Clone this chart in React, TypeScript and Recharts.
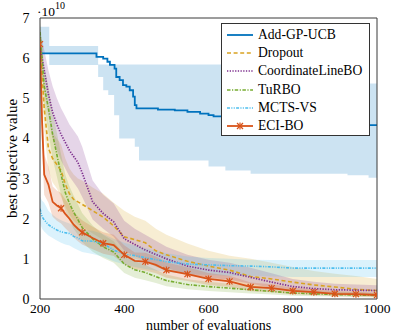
import React from 'react';
import { ComposedChart, Line, Area, XAxis, YAxis } from 'recharts';

// ---------- data (values in units of 1e10) ----------
const evals = [200, 205, 210, 220, 230, 240, 250, 260, 270, 280, 290, 300, 325, 350, 375, 400, 425, 450, 475, 500, 550, 600, 650, 700, 750, 800, 850, 900, 950, 1000];

const dropoutMean = [6.5, 5.6, 4.75, 3.75, 3.5, 3.35, 3.2, 2.86, 2.62, 2.48, 2.42, 2.36, 2.2, 2.04, 1.82, 1.55, 1.48, 1.4, 1.2, 1.1, 0.94, 0.82, 0.72, 0.56, 0.5, 0.42, 0.35, 0.3, 0.24, 0.21];
const dropoutLo = [6.2, 5.1, 4.2, 3.2, 2.9, 2.75, 2.55, 2.3, 2.1, 1.95, 1.85, 1.8, 1.63, 1.47, 1.3, 1.1, 1.0, 0.95, 0.8, 0.72, 0.6, 0.5, 0.42, 0.3, 0.25, 0.2, 0.15, 0.12, 0.09, 0.07];
const dropoutHi = [6.8, 6.2, 5.4, 4.4, 4.15, 4.0, 3.85, 3.5, 3.25, 3.1, 3.0, 2.95, 2.78, 2.62, 2.4, 2.2, 2.05, 1.95, 1.75, 1.6, 1.38, 1.2, 1.08, 1.0, 0.9, 0.8, 0.7, 0.63, 0.57, 0.5];

const clboMean = [6.3, 6.0, 5.7, 5.1, 4.65, 4.35, 4.1, 3.9, 3.7, 3.55, 3.4, 3.15, 2.42, 2.13, 1.92, 1.5, 1.36, 1.22, 1.11, 1.0, 0.82, 0.72, 0.66, 0.54, 0.42, 0.31, 0.26, 0.23, 0.22, 0.21];
const clboLo = [6.0, 5.6, 5.2, 4.5, 4.0, 3.7, 3.45, 3.25, 3.05, 2.9, 2.75, 2.55, 1.98, 1.75, 1.55, 1.2, 1.07, 0.95, 0.86, 0.77, 0.62, 0.53, 0.48, 0.38, 0.28, 0.19, 0.15, 0.13, 0.12, 0.11];
const clboHi = [6.6, 6.45, 6.2, 5.7, 5.3, 5.0, 4.75, 4.55, 4.35, 4.2, 4.05, 3.8, 2.95, 2.6, 2.38, 1.95, 1.75, 1.6, 1.45, 1.3, 1.1, 0.98, 0.9, 0.78, 0.64, 0.5, 0.43, 0.38, 0.36, 0.34];

const turboMean = [6.65, 5.95, 5.3, 4.75, 4.1, 3.6, 3.1, 2.65, 2.38, 2.16, 1.98, 1.78, 1.5, 1.3, 1.17, 0.87, 0.73, 0.66, 0.56, 0.46, 0.36, 0.31, 0.27, 0.23, 0.19, 0.15, 0.13, 0.11, 0.1, 0.09];
const turboLo = [6.4, 5.5, 4.8, 4.15, 3.5, 3.05, 2.6, 2.2, 1.95, 1.75, 1.6, 1.42, 1.18, 1.02, 0.9, 0.65, 0.53, 0.47, 0.4, 0.32, 0.24, 0.2, 0.17, 0.14, 0.11, 0.08, 0.07, 0.06, 0.05, 0.04];
const turboHi = [6.9, 6.4, 5.8, 5.3, 4.65, 4.15, 3.6, 3.1, 2.8, 2.57, 2.36, 2.14, 1.83, 1.6, 1.44, 1.1, 0.94, 0.85, 0.73, 0.61, 0.49, 0.43, 0.38, 0.33, 0.28, 0.23, 0.2, 0.17, 0.16, 0.15];

const mctsMean = [2.25, 2.05, 1.97, 1.85, 1.78, 1.72, 1.67, 1.65, 1.63, 1.56, 1.52, 1.45, 1.44, 1.38, 1.22, 1.12, 1.08, 1.03, 0.98, 0.93, 0.87, 0.85, 0.83, 0.82, 0.8, 0.77, 0.77, 0.77, 0.77, 0.77];
const mctsLo = [1.88, 1.75, 1.68, 1.58, 1.52, 1.46, 1.4, 1.36, 1.33, 1.27, 1.22, 1.17, 1.12, 1.05, 0.94, 0.86, 0.8, 0.75, 0.71, 0.67, 0.62, 0.6, 0.58, 0.57, 0.56, 0.55, 0.55, 0.55, 0.55, 0.55];
const mctsHi = [2.55, 2.45, 2.4, 2.2, 2.1, 2.02, 1.96, 1.92, 1.88, 1.82, 1.77, 1.72, 1.7, 1.62, 1.5, 1.4, 1.33, 1.27, 1.2, 1.14, 1.06, 1.02, 1.0, 0.98, 0.97, 0.97, 0.97, 0.97, 0.97, 0.97];

const eciMean = [6.35, 4.4, 3.1, 2.85, 2.42, 2.33, 2.26, 2.12, 2.0, 1.85, 1.75, 1.66, 1.52, 1.39, 1.34, 1.1, 0.95, 0.93, 0.85, 0.72, 0.62, 0.5, 0.44, 0.3, 0.27, 0.2, 0.17, 0.13, 0.12, 0.1];
const eciLo = [6.1, 3.8, 2.6, 2.4, 2.05, 1.95, 1.88, 1.76, 1.66, 1.53, 1.44, 1.36, 1.24, 1.13, 1.07, 0.86, 0.74, 0.71, 0.64, 0.53, 0.45, 0.35, 0.3, 0.19, 0.17, 0.12, 0.1, 0.07, 0.06, 0.05];
const eciHi = [6.6, 5.0, 3.6, 3.3, 2.8, 2.7, 2.64, 2.48, 2.34, 2.17, 2.06, 1.96, 1.8, 1.66, 1.6, 1.34, 1.16, 1.15, 1.06, 0.91, 0.79, 0.65, 0.58, 0.41, 0.37, 0.28, 0.24, 0.19, 0.18, 0.15];

const addGpX = [200, 334, 350, 360, 366, 377, 381, 389, 397, 405, 413, 421, 425, 429, 480, 520, 550, 580, 600, 612, 700, 800, 900, 960, 1000];
const addGpMean = [6.12, 6.03, 5.99, 5.91, 5.83, 5.74, 5.53, 5.45, 5.33, 5.29, 5.2, 5.04, 4.83, 4.75, 4.72, 4.7, 4.66, 4.62, 4.58, 4.55, 4.48, 4.42, 4.36, 4.33, 4.33];
const addGpBandX = [200, 222, 338, 350, 362, 376, 388, 425, 435, 600, 640, 700, 930, 980, 1000];
const addGpLo = [6.12, 5.83, 5.53, 5.2, 5.08, 4.58, 4.0, 3.79, 3.45, 3.3, 3.2, 3.12, 3.08, 3.02, 2.98];
const addGpHi = [6.78, 6.3, 5.84, 5.84, 5.84, 5.84, 5.84, 5.84, 5.84, 5.84, 5.84, 5.84, 5.37, 5.37, 5.37];

const xTicks = [200, 400, 600, 800, 1000];
const yTicks = [0, 1, 2, 3, 4, 5, 6, 7];
const markerStep = 50;

// ---------- layout / style ----------
const W = 398;
const H = 336;
const MARGIN = { top: 18, right: 21, bottom: 7, left: 0 };
const Y_AXIS_W = 40;
const X_AXIS_H = 30;
const PLOT_L = MARGIN.left + Y_AXIS_W;
const PLOT_T = MARGIN.top;
const PLOT_W = W - PLOT_L - MARGIN.right;
const PLOT_H = H - PLOT_T - MARGIN.bottom - X_AXIS_H;
const FONT = '"Liberation Serif", "Times New Roman", serif';
const AXIS_COLOR = '#3a3a3a';
const TICK_COLOR = '#9a9a9a';

const toPts = (xs: number[], ys: number[]) => xs.map((x, i) => ({ x, y: ys[i] }));
const toBand = (xs: number[], lo: number[], hi: number[]) => xs.map((x, i) => ({ x, range: [lo[i], hi[i]] }));

type Series = {
  name: string;
  color: string;
  dash?: string;
  width: number;
  line: { x: number; y: number }[];
  band: { x: number; range: number[] }[];
  curve: 'linear' | 'stepAfter';
  marker?: boolean;
};

const series: Series[] = [
  { name: 'Add-GP-UCB', color: '#0072bd', width: 1.8, line: toPts(addGpX, addGpMean), band: toBand(addGpBandX, addGpLo, addGpHi), curve: 'stepAfter' },
  { name: 'Dropout', color: '#d9a322', dash: '4 2.6', width: 1.6, line: toPts(evals, dropoutMean), band: toBand(evals, dropoutLo, dropoutHi), curve: 'linear' },
  { name: 'CoordinateLineBO', color: '#7e2f8e', dash: '1.3 1.4', width: 1.7, line: toPts(evals, clboMean), band: toBand(evals, clboLo, clboHi), curve: 'linear' },
  { name: 'TuRBO', color: '#77ac30', dash: '3.5 1.5 1.2 1.5', width: 1.6, line: toPts(evals, turboMean), band: toBand(evals, turboLo, turboHi), curve: 'linear' },
  { name: 'MCTS-VS', color: '#4dbeee', dash: '3 1.3 1.1 1.3 1.1 1.3', width: 1.6, line: toPts(evals, mctsMean), band: toBand(evals, mctsLo, mctsHi), curve: 'linear' },
  { name: 'ECI-BO', color: '#d95319', width: 1.8, line: toPts(evals, eciMean), band: toBand(evals, eciLo, eciHi), curve: 'linear', marker: true },
];

const Marker = ({ cx, cy, color, r = 3 }: { cx: number; cy: number; color: string; r?: number }) => (
  <g stroke={color} strokeWidth={1.2} fill="none">
    <line x1={cx - r} y1={cy - r} x2={cx + r} y2={cy + r} />
    <line x1={cx - r} y1={cy + r} x2={cx + r} y2={cy - r} />
    <line x1={cx} y1={cy - r - 0.5} x2={cx} y2={cy + r + 0.5} />
  </g>
);

const makeDot = (color: string) => (props: any) => {
  const { cx, cy, payload, index } = props;
  if (cx == null || cy == null || !payload || payload.x % markerStep !== 0) {
    return <g key={`nd-${index}`} />;
  }
  return (
    <g key={`d-${index}`}>
      <Marker cx={cx} cy={cy} color={color} />
    </g>
  );
};

const XLabel = () => (
  <text x={PLOT_L + PLOT_W / 2} y={PLOT_T + PLOT_H + 31} textAnchor="middle" fontFamily={FONT} fontSize={14} fill="#000">
    number of evaluations
  </text>
);

const YLabel = () => {
  const x = 12;
  const y = PLOT_T + PLOT_H / 2;
  return (
    <text x={x} y={y} transform={`rotate(-90 ${x} ${y})`} textAnchor="middle" dominantBaseline="central" fontFamily={FONT} fontSize={15} fill="#000">
      best objective value
    </text>
  );
};

const LegendBox = () => (
  <div
    style={{
      position: 'absolute',
      left: 221,
      top: 23,
      width: 149,
      height: 113,
      background: '#fff',
      border: '1px solid #333',
      fontFamily: FONT,
      fontSize: 13.6,
      color: '#000',
      boxSizing: 'border-box',
    }}
  >
    {series.map((s, i) => (
      <div key={s.name} style={{ position: 'absolute', left: 5, top: 2 + i * 18.2, height: 18, display: 'flex', alignItems: 'center', whiteSpace: 'nowrap' }}>
        <svg width={26} height={10} style={{ marginRight: 5 }}>
          <line x1={0} y1={5} x2={26} y2={5} stroke={s.color} strokeWidth={s.width} strokeDasharray={s.dash} />
          {s.marker ? <Marker cx={13} cy={5} color={s.color} /> : null}
        </svg>
        <span>{s.name}</span>
      </div>
    ))}
  </div>
);

export default function App() {
  return (
    <div style={{ position: 'absolute', left: 0, top: 0, width: W, height: H, background: '#fff' }}>
      <ComposedChart width={W} height={H} margin={MARGIN}>
        <XAxis
          xAxisId="b"
          dataKey="x"
          type="number"
          domain={[200, 1000]}
          ticks={xTicks}
          allowDataOverflow
          height={X_AXIS_H}
          axisLine={{ stroke: AXIS_COLOR, strokeWidth: 1 }}
          tickLine={false}
          tickSize={0}
          tickMargin={4}
          tick={{ fill: '#000', fontSize: 13.5, fontFamily: FONT }}
          label={XLabel}
        />
        <XAxis xAxisId="bm" dataKey="x" type="number" domain={[200, 1000]} ticks={xTicks} mirror axisLine={false} tick={false} tickSize={5} tickLine={{ stroke: TICK_COLOR }} />
        <XAxis xAxisId="t" orientation="top" dataKey="x" type="number" domain={[200, 1000]} ticks={xTicks} mirror axisLine={{ stroke: AXIS_COLOR, strokeWidth: 1 }} tick={false} tickSize={5} tickLine={{ stroke: TICK_COLOR }} />
        <YAxis
          yAxisId="l"
          type="number"
          domain={[0, 7]}
          ticks={yTicks}
          allowDataOverflow
          width={Y_AXIS_W}
          axisLine={{ stroke: AXIS_COLOR, strokeWidth: 1 }}
          tickLine={false}
          tickSize={0}
          tickMargin={10.5}
          tick={{ fill: '#000', fontSize: 14, fontFamily: FONT }}
          label={YLabel}
        />
        <YAxis yAxisId="lm" type="number" domain={[0, 7]} ticks={yTicks} mirror axisLine={false} tick={false} tickSize={5} tickLine={{ stroke: TICK_COLOR }} />
        <YAxis yAxisId="r" orientation="right" type="number" domain={[0, 7]} ticks={yTicks} mirror axisLine={{ stroke: AXIS_COLOR, strokeWidth: 1 }} tick={false} tickSize={5} tickLine={{ stroke: TICK_COLOR }} />

        {series.map((s) => (
          <Area
            key={`band-${s.name}`}
            xAxisId="b"
            yAxisId="l"
            data={s.band}
            dataKey="range"
            type={s.curve}
            stroke="none"
            fill={s.color}
            fillOpacity={0.2}
            isAnimationActive={false}
            activeDot={false}
            legendType="none"
          />
        ))}
        {series.map((s) => (
          <Line
            key={`line-${s.name}`}
            xAxisId="b"
            yAxisId="l"
            data={s.line}
            dataKey="y"
            type={s.curve}
            stroke={s.color}
            strokeWidth={s.width}
            strokeDasharray={s.dash}
            dot={s.marker ? makeDot(s.color) : false}
            activeDot={false}
            isAnimationActive={false}
          />
        ))}
      </ComposedChart>
      <div style={{ position: 'absolute', left: 37, top: -2, fontFamily: FONT, fontSize: 13.5, color: '#000', lineHeight: '17px', whiteSpace: 'nowrap' }}>
        ·10<sup style={{ fontSize: 10, position: 'relative', top: -1 }}>10</sup>
      </div>
      <LegendBox />
    </div>
  );
}
